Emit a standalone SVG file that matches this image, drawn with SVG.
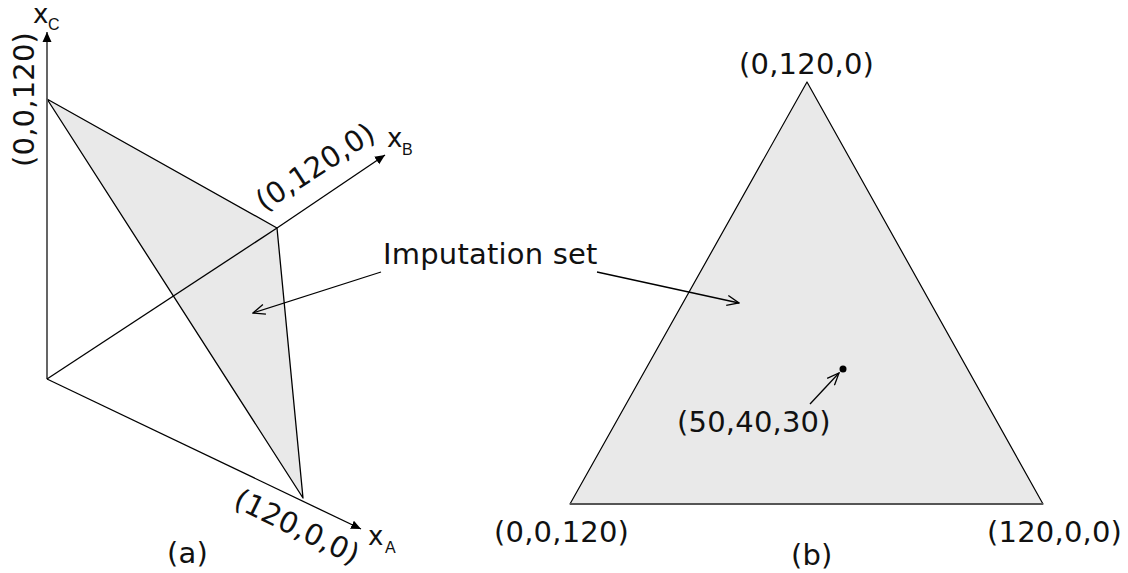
<svg xmlns="http://www.w3.org/2000/svg" width="1128" height="573" viewBox="0 0 1128 573">
<style>
  .t{font-family:"DejaVu Sans",Verdana,sans-serif;font-size:29px;letter-spacing:0.2px;fill:#111}
  .ax{font-family:"DejaVu Sans",Verdana,sans-serif;font-size:26px;fill:#111}
  .sub{font-family:"Liberation Sans",Arial,sans-serif;font-size:16px;fill:#111}
  .ln{stroke:#000;stroke-width:1.3;fill:none}
  .face{fill:#e9e9e9;stroke:#000;stroke-width:1.3;stroke-linejoin:round}
</style>
<defs>
  <marker id="fa" viewBox="0 0 10 10" refX="10" refY="5" markerWidth="10" markerHeight="10" markerUnits="userSpaceOnUse" orient="auto">
    <path d="M0,0.5 L10,5 L0,9.5 Z" fill="#000"/>
  </marker>
  <marker id="oa" viewBox="0 0 14 12" refX="13" refY="6" markerWidth="14" markerHeight="12" markerUnits="userSpaceOnUse" orient="auto">
    <path d="M1,1 L13,6 L1,11" fill="none" stroke="#000" stroke-width="1.3"/>
  </marker>
</defs>
<rect width="1128" height="573" fill="#fff"/>

<g id="panel-a">
  <g id="face-a"><polygon class="face" points="47,99 277,228 303,498"/></g>
  <g id="axis-labels">
    <text class="ax" x="33" y="23">x</text><text class="sub" x="48" y="30">C</text>
    <text class="ax" x="387" y="147">x</text><text class="sub" x="402" y="155">B</text>
    <text class="ax" x="368" y="545">x</text><text class="sub" x="385" y="553">A</text>
  </g>
  <g id="vertex-labels-a">
    <text class="t" transform="translate(34,167) rotate(-90)">(0,0,120)</text>
    <text class="t" transform="translate(264,212) rotate(-33)">(0,120,0)</text>
    <text class="t" transform="translate(232,506) rotate(26)">(120,0,0)</text>
  </g>
  <text class="t" x="167" y="563">(a)</text>
</g>

<g id="label-imputation"><text class="t" x="383" y="264">Imputation set</text></g>

<g id="panel-b">
  <g id="face-b">
    <polygon points="807,82 1043,504 570,504" fill="#e9e9e9" stroke="#000" stroke-width="1.2" stroke-linejoin="round"/>
    <line x1="570" y1="504" x2="1043" y2="504" stroke="#555" stroke-width="2"/>
  </g>
  <g id="point"><circle cx="843" cy="369" r="3.5" fill="#000"/></g>
  <text class="t" x="739" y="74">(0,120,0)</text>
  <text class="t" x="494" y="542">(0,0,120)</text>
  <text class="t" x="987" y="542">(120,0,0)</text>
  <text class="t" x="677" y="432">(50,40,30)</text>
  <text class="t" x="791" y="565">(b)</text>
</g>

<g id="connectors">
  <line x1="47" y1="379" x2="47" y2="32" stroke="#555" stroke-width="1.8" marker-end="url(#fa)"/>
  <line class="ln" x1="47" y1="379" x2="277" y2="228"/>
  <line class="ln" x1="277" y1="228" x2="385" y2="155" marker-end="url(#fa)"/>
  <line class="ln" x1="47" y1="379" x2="361" y2="529" marker-end="url(#fa)"/>
  <line class="ln" x1="381" y1="272" x2="253" y2="313" marker-end="url(#oa)"/>
  <line class="ln" x1="597" y1="272" x2="739" y2="303" marker-end="url(#oa)"/>
  <line class="ln" x1="810" y1="404" x2="839" y2="373" marker-end="url(#oa)"/>
</g>
</svg>
